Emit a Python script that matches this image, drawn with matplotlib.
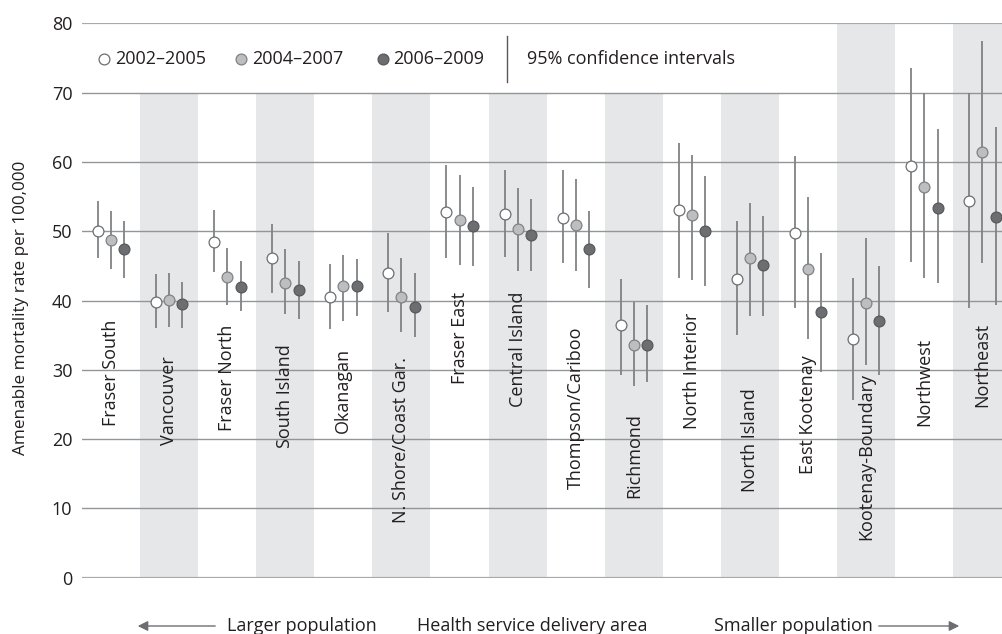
import matplotlib
matplotlib.use("Agg")
import matplotlib.pyplot as plt
from matplotlib.patches import FancyArrowPatch

# ---------------- data ----------------
regions = ["Fraser South", "Vancouver", "Fraser North", "South Island", "Okanagan",
           "N. Shore/Coast Gar.", "Fraser East", "Central Island", "Thompson/Cariboo",
           "Richmond", "North Interior", "North Island", "East Kootenay",
           "Kootenay-Boundary", "Northwest", "Northeast"]

periods = ["2002\u20132005", "2004\u20132007", "2006\u20132009"]

rate_0205 = [50.0, 39.8, 48.5, 46.2, 40.5, 44.0, 52.7, 52.5, 51.9, 36.4, 53.0, 43.1, 49.7, 34.4, 59.4, 54.4]
lo_0205   = [46.1, 36.1, 44.1, 41.1, 35.9, 38.3, 46.2, 46.3, 45.4, 29.3, 43.3, 35.0, 38.9, 25.6, 45.6, 38.9]
hi_0205   = [54.3, 43.8, 53.1, 51.1, 45.3, 49.8, 59.6, 58.9, 58.8, 43.1, 62.7, 51.5, 60.8, 43.3, 73.5, 70.0]

rate_0407 = [48.7, 40.1, 43.4, 42.5, 42.1, 40.5, 51.6, 50.3, 50.9, 33.6, 52.3, 46.2, 44.6, 39.6, 56.4, 61.5]
lo_0407   = [44.6, 36.2, 39.4, 38.0, 37.1, 35.4, 45.1, 44.3, 44.3, 27.7, 43.0, 37.7, 34.5, 30.7, 43.2, 45.4]
hi_0407   = [52.9, 43.9, 47.6, 47.4, 46.6, 46.2, 58.1, 56.3, 57.5, 39.8, 61.0, 54.0, 54.9, 49.0, 69.9, 77.4]

rate_0609 = [47.4, 39.5, 42.0, 41.5, 42.1, 39.0, 50.8, 49.5, 47.4, 33.6, 50.1, 45.1, 38.3, 37.0, 53.4, 52.1]
lo_0609   = [43.2, 36.1, 38.5, 37.4, 37.8, 34.7, 45.0, 44.3, 41.8, 28.3, 42.1, 37.7, 29.7, 29.3, 42.5, 39.4]
hi_0609   = [51.5, 42.6, 45.7, 45.7, 46.0, 43.9, 56.4, 54.7, 52.9, 39.4, 58.0, 52.2, 46.8, 45.0, 64.8, 65.1]

yticks = [0, 10, 20, 30, 40, 50, 60, 70, 80]

# ---------------- layout / style ----------------
label_top = [37.2, 31.9, 36.5, 33.7, 33.2, 31.9, 41.3, 41.3, 36.3, 23.8, 38.2, 27.4, 32.1, 29.6, 34.6, 36.8]
offsets = [-0.225, 0.0, 0.23]
face = ["white", "#bcbec0", "#6d6e71"]
edge = ["#6d6e71", "#808285", "#58595b"]
BAND = "#e6e7e8"
GRID = "#939598"
ECOL = "#808285"
TXT = "#231f20"
FONT = ["Open Sans", "DejaVu Sans"]
FS = 13

plt.rcParams['font.family'] = FONT

fig = plt.figure(figsize=(10.02, 6.34), dpi=100)
ax = fig.add_axes([82 / 1002, (634 - 577.7) / 634, 920 / 1002, 554.4 / 634])
ax.set_xlim(-0.5, 15.34)
ax.set_ylim(0, 80)

n = len(regions)
legend_cover_end = 12  # categories under legend box (bands stop at 70)
for i in range(n):
    if i % 2 == 1:
        top = 70 if i <= legend_cover_end else 80
        ax.axvspan(i - 0.5, i + 0.5, ymin=0, ymax=top / 80, color=BAND, lw=0, zorder=0)

for y in yticks:
    if y in (0, 80):
        ax.axhline(y, color="#a7a9ac", lw=1.6, zorder=1)
    else:
        ax.axhline(y, color=GRID, lw=1.0, zorder=1)

series = [(rate_0205, lo_0205, hi_0205), (rate_0407, lo_0407, hi_0407), (rate_0609, lo_0609, hi_0609)]
for k, (r, lo, hi) in enumerate(series):
    xs = [i + offsets[k] for i in range(n)]
    yerr = [[r[i] - lo[i] for i in range(n)], [hi[i] - r[i] for i in range(n)]]
    ax.errorbar(xs, r, yerr=yerr, fmt="o", ms=7.8, mfc=face[k], mec=edge[k], mew=0.9,
                ecolor=ECOL, elinewidth=1.3, capsize=0, zorder=3 + k)

for i, name in enumerate(regions):
    ax.text(i, label_top[i], name, rotation=90, ha="center", va="top",
            fontsize=FS, color=TXT, zorder=6)

for s in ax.spines.values():
    s.set_visible(False)
ax.set_xticks([])
ax.set_yticks(yticks)
ax.tick_params(axis="y", length=0, pad=7, labelsize=FS, labelcolor=TXT)
ax.set_ylabel("Amenable mortality rate per 100,000", fontsize=12.3, color=TXT)
ax.yaxis.set_label_coords((29 - 82) / 920, (577.7 - 307.5) / 554.4)

# legend (drawn in data coords in the white area above 70)
leg_y = 74.8
leg_marker_x = [-0.12, 2.23, 4.675]
leg_text_x = [0.065, 2.43, 4.85]
for k in range(3):
    ax.plot([leg_marker_x[k]], [leg_y], "o", ms=7.8, mfc=face[k], mec=edge[k], mew=0.9, zorder=5)
    ax.text(leg_text_x[k], leg_y, periods[k], ha="left", va="center", fontsize=FS, color=TXT)
ax.plot([6.82, 6.82], [71.6, 78.2], color="#58595b", lw=1.0, zorder=5)
ax.text(7.16, leg_y, "95% confidence intervals", ha="left", va="center", fontsize=FS, color=TXT)

# bottom annotation
by = 3 / 634
fig.text(302 / 1002, by, "Larger population", ha="center", va="baseline", fontsize=FS, color=TXT)
fig.text(532 / 1002, by, "Health service delivery area", ha="center", va="baseline", fontsize=FS, color=TXT)
fig.text(793 / 1002, by, "Smaller population", ha="center", va="baseline", fontsize=FS, color=TXT)
ay = 1 - 626 / 634
fig.patches.append(FancyArrowPatch(
    (218 / 1002, ay), (135 / 1002, ay), transform=fig.transFigure,
    arrowstyle="-|>,head_length=6,head_width=3", color="#6d6e71", lw=1.0, mutation_scale=1))
fig.patches.append(FancyArrowPatch(
    (876 / 1002, ay), (962 / 1002, ay), transform=fig.transFigure,
    arrowstyle="-|>,head_length=6,head_width=3", color="#6d6e71", lw=1.0, mutation_scale=1))

fig.savefig("out.png", dpi=100)
